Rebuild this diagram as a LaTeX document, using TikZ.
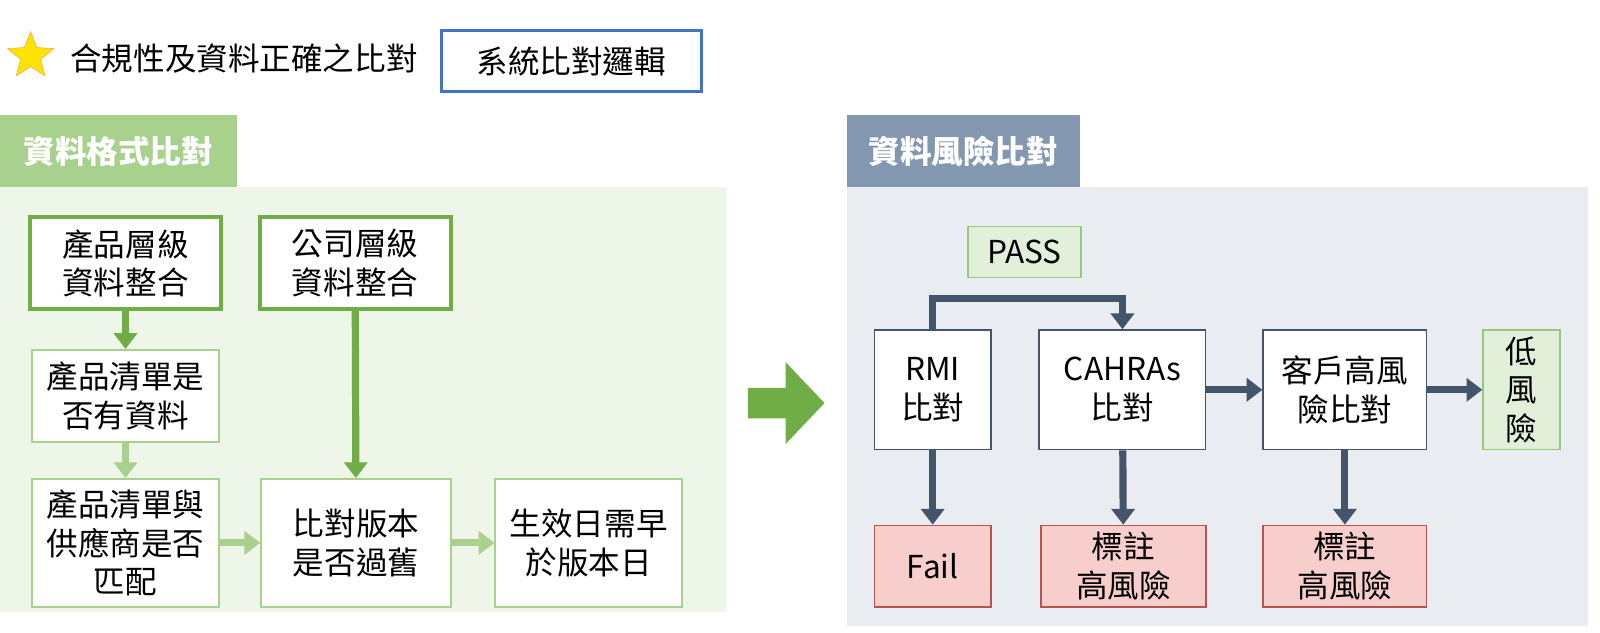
\documentclass[tikz,border=0pt]{standalone}
\usepackage{fontspec}
\setmainfont{Noto Sans CJK TC}
\usetikzlibrary{shapes.geometric,arrows.meta}
\definecolor{dkgreen}{HTML}{70AD47}
\definecolor{ltgreen}{HTML}{A9D18E}
\definecolor{bggreen}{HTML}{EEF5E9}
\definecolor{slate}{HTML}{44546A}
\definecolor{hdgray}{HTML}{8497B0}
\definecolor{bggray}{HTML}{E9ECF1}
\definecolor{pinkf}{HTML}{F8CECC}
\definecolor{pinkd}{HTML}{B85450}
\definecolor{passf}{HTML}{E2F0D9}
\definecolor{logicblue}{HTML}{4472C4}
\newcommand{\drawbox}{\node[draw,rectangle,align=center,fill=white,inner sep=1pt,font=\fontsize{22}{27}\selectfont]}
\begin{document}
\begin{tikzpicture}[x=0.025cm,y=-0.025cm,
  dkbox/.style={draw=dkgreen,line width=2.8pt},
  ltbox/.style={draw=ltgreen,line width=1.4pt},
  skbox/.style={draw=slate,line width=1.2pt},
  redbox/.style={draw=pinkd,fill=pinkf,line width=1.2pt},
  dkarr/.style={dkgreen,line width=5pt,-{Triangle[length=11pt,width=16pt]}},
  ltarr/.style={ltgreen,line width=5pt,-{Triangle[length=11pt,width=16pt]}},
  skarr/.style={slate,line width=5pt,-{Triangle[length=11pt,width=16pt]}}]
\useasboundingbox (0,0) rectangle (1568,620.3);
%title row
\node[star,star points=5,star point ratio=2.3,fill=yellow!85!orange,draw=orange!70,minimum size=34pt,inner sep=0] (star) at (30,55) {};
\node[anchor=west,font=\fontsize{22}{27}\selectfont] (title) at (64,57) {合規性及資料正確之比對};
\node[draw=logicblue,line width=2.2pt,minimum width=255*0.025cm,minimum height=60*0.025cm,font=\fontsize{22}{27}\selectfont] (logic) at (560,60) {系統比對邏輯};
%left panel
\fill[bggreen] (0,183) rectangle (712,600);
\node[fill=ltgreen,minimum width=232*0.025cm,minimum height=70*0.025cm,text=white,font=\bfseries\fontsize{22}{27}\selectfont] (hdl) at (116,148) {資料格式比對};
\drawbox[dkbox,minimum width=187*0.025cm,minimum height=90*0.025cm] (prodint) at (123,258) {產品層級\\資料整合};
\drawbox[dkbox,minimum width=187*0.025cm,minimum height=90*0.025cm] (compint) at (348,258) {公司層級\\資料整合};
\drawbox[ltbox,minimum width=183*0.025cm,minimum height=90*0.025cm] (prodlist) at (123,388) {產品清單是\\否有資料};
\drawbox[ltbox,minimum width=183*0.025cm,minimum height=125*0.025cm] (match) at (123,532) {產品清單與\\供應商是否\\匹配};
\drawbox[ltbox,minimum width=186*0.025cm,minimum height=125*0.025cm] (version) at (349,532) {比對版本\\是否過舊};
\drawbox[ltbox,minimum width=183*0.025cm,minimum height=125*0.025cm] (effect) at (577,532) {生效日需早\\於版本日};
\draw[dkarr] (prodint) -- (prodlist);
\draw[ltarr] (prodlist) -- (match);
\draw[ltarr] (match) -- (version);
\draw[ltarr] (version) -- (effect);
\draw[dkarr] (compint) -- (version);
%big arrow
\fill[dkgreen] (733,380) -- (770,380) -- (770,355) -- (808,395) -- (770,435) -- (770,410) -- (733,410) -- cycle;
%right panel
\fill[bggray] (830,183) rectangle (1556,613);
\node[fill=hdgray,minimum width=228*0.025cm,minimum height=70*0.025cm,text=white,font=\bfseries\fontsize{22}{27}\selectfont] (hdr) at (944,148) {資料風險比對};
\drawbox[draw=dkgreen!70,fill=passf,line width=1.2pt,minimum width=111*0.025cm,minimum height=50*0.025cm] (pass) at (1004,247) {PASS};
\drawbox[skbox,minimum width=114*0.025cm,minimum height=117*0.025cm] (rmi) at (914,382) {RMI\\比對};
\drawbox[skbox,minimum width=163*0.025cm,minimum height=117*0.025cm] (cahras) at (1100,382) {CAHRAs\\比對};
\drawbox[skbox,minimum width=160*0.025cm,minimum height=117*0.025cm] (client) at (1318,382) {客戶高風\\險比對};
\drawbox[draw=dkgreen!70,fill=passf,line width=1.2pt,minimum width=75*0.025cm,minimum height=117*0.025cm] (low) at (1491,382) {低\\風\\險};
\drawbox[redbox,minimum width=114*0.025cm,minimum height=80*0.025cm] (fail) at (914,555) {Fail};
\drawbox[redbox,minimum width=162*0.025cm,minimum height=80*0.025cm] (mark1) at (1101,555) {標註\\高風險};
\drawbox[redbox,minimum width=160*0.025cm,minimum height=80*0.025cm] (mark2) at (1318,555) {標註\\高風險};
\draw[skarr] (rmi.north) -- ++(0,-30) -| (cahras.north);
\draw[skarr] (rmi) -- (fail);
\draw[skarr] (cahras) -- (mark1);
\draw[skarr] (client) -- (mark2);
\draw[skarr] (cahras) -- (client);
\draw[skarr] (client) -- (low);
\end{tikzpicture}
\end{document}
